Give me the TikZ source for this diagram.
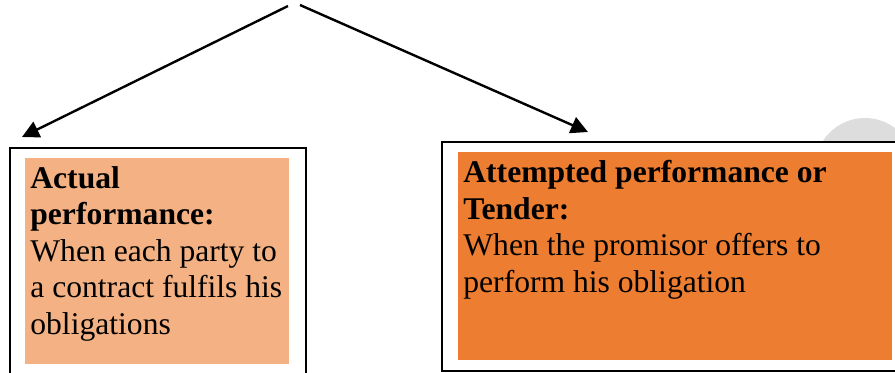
\documentclass[tikz,border=0pt]{standalone}
\usepackage{fontspec}
\setmainfont{Liberation Serif}
\usetikzlibrary{arrows.meta}
\usetikzlibrary{positioning}
\definecolor{peach}{HTML}{F4B183}
\definecolor{office orange}{HTML}{ED7D31}
\definecolor{watermark}{HTML}{DDDDDD}
\tikzset {
  % plain outer frame round each panel
  frame/.style = {
    draw = black,
    line width = 1pt,
    fill = white,
    anchor = north west,
    inner sep = 0
  },
  % coloured panel holding the text
  panel/.style = {
    anchor = north west,
    inner xsep = 2.5pt,
    inner ysep = 4pt,
    font = \fontsize{15.8}{18.25}\selectfont
  },
  % connector from the top to a panel
  link/.style = {
    draw = black,
    line width = 1.2pt,
    -{Triangle[length=8.5pt, width=8.5pt]}
  }
}

\begin{document}
\begin{tikzpicture}[x=0.5pt, y=-0.5pt]
    \useasboundingbox (0,0) rectangle (895,372);
    \clip (0,0) rectangle (895,372);

    % watermark behind the right frame
    \fill[watermark] (865,168) circle (25pt);

    \node[frame, minimum width=148pt, minimum height=120pt] (actual frame) at (9,147) {};
    \node[frame, minimum width=240pt, minimum height=114.5pt] (tender frame) at (441,141) {};

    \node[panel, fill=peach] (actual) at (25,158)
      {\parbox[t][95pt][t]{127pt}{\raggedright
        \textbf{Actual}\\
        \textbf{performance:}\\
        When each party to\\
        a contract fulfils his\\
        obligations}};

    \node[panel, fill=office orange] (tender) at (458,152)
      {\parbox[t][96pt][t]{212pt}{\raggedright
        \textbf{Attempted performance or}\\
        \textbf{Tender:}\\
        When the promisor offers to\\
        perform his obligation}};

    \coordinate (apex left) at (288,6);
    \coordinate (apex right) at (300,5);

    % connectors
    \draw[link] (apex left) -- ([shift={(13,-10)}]actual frame.north west);
    \draw[link] (apex right) -- ([shift={(147,-9)}]tender frame.north west);
\end{tikzpicture}
\end{document}
